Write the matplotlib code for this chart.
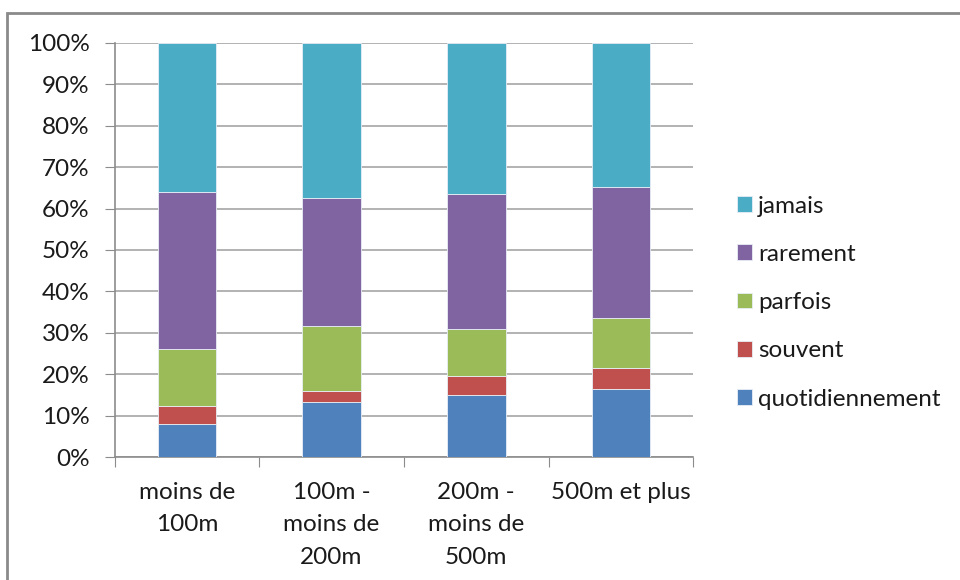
import matplotlib.pyplot as plt
from matplotlib.patches import Rectangle
from matplotlib.ticker import PercentFormatter, FixedLocator, NullFormatter
import numpy as np

plt.rcParams['font.family'] = ['Lato', 'DejaVu Sans']

categories = ["moins de\n100m", "100m -\nmoins de\n200m", "200m -\nmoins de\n500m", "500m et plus"]
series = ["quotidiennement", "souvent", "parfois", "rarement", "jamais"]
quotidiennement = [8.1, 13.4, 14.9, 16.5]
souvent = [4.3, 2.5, 4.6, 5.0]
parfois = [13.6, 15.7, 11.5, 12.1]
rarement = [38.1, 30.9, 32.4, 31.7]
jamais = [35.9, 37.5, 36.6, 34.7]
colors = ["#4F81BD", "#C0504D", "#9BBB59", "#8064A2", "#4BACC6"]

fs = 17.5
fig = plt.figure(figsize=(9.6, 5.8), dpi=100)
ax = fig.add_axes([0.1193, 0.2116, 0.6028, 0.7148])

x = np.arange(len(categories))
bottom = np.zeros(len(categories))
for name, vals, c in zip(series, [quotidiennement, souvent, parfois, rarement, jamais], colors):
    ax.bar(x, vals, 0.405, bottom=bottom, color=c, edgecolor='#E8EEF6', linewidth=0.6, label=name, zorder=3)
    bottom += np.array(vals)

ax.set_xlim(-0.5, len(categories) - 0.5)
ax.set_ylim(0, 100)
ax.yaxis.set_major_locator(FixedLocator(np.arange(0, 101, 10)))
ax.yaxis.set_major_formatter(PercentFormatter(decimals=0))
ax.grid(axis='y', color='#A6A6A6', linewidth=1.2, zorder=0)

ax.xaxis.set_major_locator(FixedLocator(np.arange(-0.5, len(categories), 1.0)))
ax.xaxis.set_major_formatter(NullFormatter())
ax.set_xticks(x, minor=True)
ax.set_xticklabels(categories, minor=True, fontsize=fs, color='#1a1a1a', linespacing=1.7, va='top')
ax.tick_params(axis='x', which='minor', length=0, pad=17.5)
ax.tick_params(axis='x', which='major', length=7, color='#8c8c8c', direction='out')
ax.tick_params(axis='y', length=7, color='#8c8c8c', labelsize=fs, labelcolor='#1a1a1a', pad=11)

for s in ['top', 'right']:
    ax.spines[s].set_visible(False)
for s in ['left', 'bottom']:
    ax.spines[s].set_color('#8c8c8c')
    ax.spines[s].set_linewidth(1.2)

handles, labels = ax.get_legend_handles_labels()
ax.legend(handles[::-1], labels[::-1], loc='center left', bbox_to_anchor=(1.0757, 0.373),
          frameon=False, fontsize=fs, handlelength=0.62, handleheight=0.62,
          handletextpad=0.25, labelspacing=1.12, borderaxespad=0, borderpad=0,
          labelcolor='#1a1a1a')

fig.patches.append(Rectangle((7 / 960, -0.1), 1.0, 1.1 - 13 / 580, transform=fig.transFigure,
                             fill=False, edgecolor='#8a8a8a', linewidth=2))

fig.savefig('out.png', dpi=100)
